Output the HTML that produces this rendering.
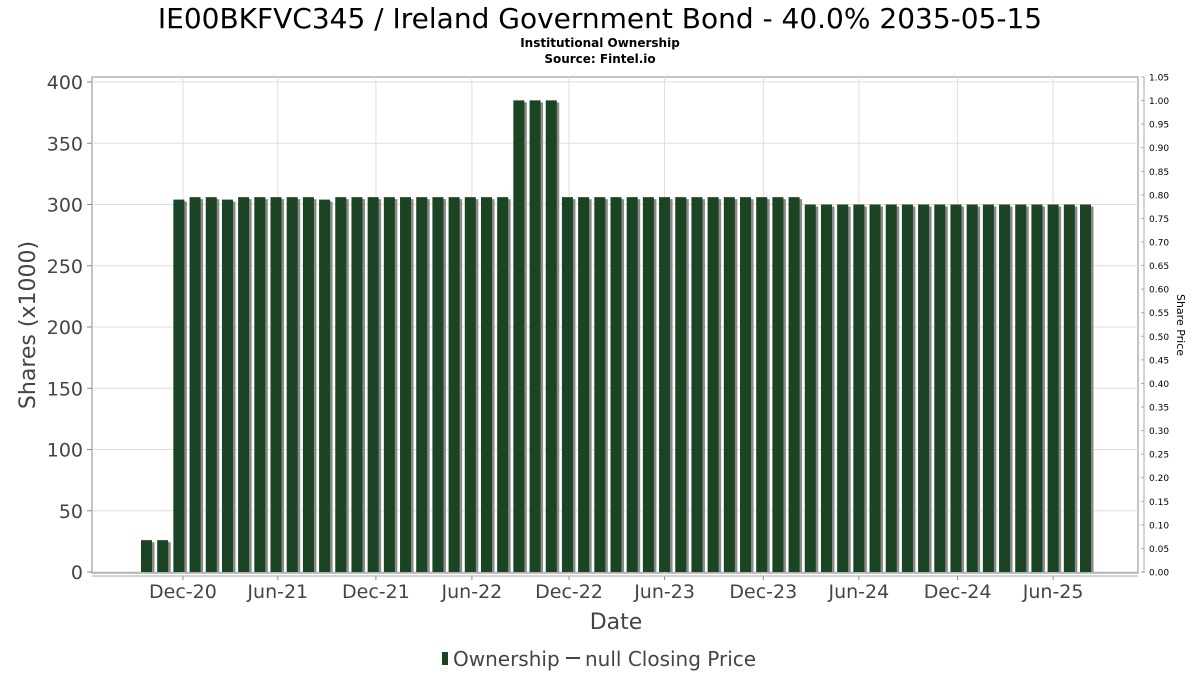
<!DOCTYPE html>
<html><head><meta charset="utf-8"><style>
html,body{margin:0;padding:0;background:#fff;}
svg{display:block;font-family:"DejaVu Sans","Liberation Sans",sans-serif;}
</style></head><body>
<svg id="chart" width="1200" height="675" viewBox="0 0 1200 675">
<text x="600" y="28" text-anchor="middle" font-size="28" fill="#000">IE00BKFVC345 / Ireland Government Bond - 40.0% 2035-05-15</text>
<text x="600" y="47" text-anchor="middle" font-size="12" font-weight="bold">Institutional Ownership</text>
<text x="600" y="63" text-anchor="middle" font-size="12" font-weight="bold">Source: Fintel.io</text>
<rect x="92" y="77" width="1046" height="496" fill="#fff" stroke="#888" stroke-width="1"/>
<g id="grid"></g>
<g id="bars"></g>
<g id="leftAxis"></g>
<g id="rightAxis"></g>
<g id="xAxis"></g>
<text transform="translate(35,325) rotate(-90)" text-anchor="middle" font-size="22" fill="#444">Shares (x1000)</text>
<text transform="translate(1177,325) rotate(90)" text-anchor="middle" font-size="11" fill="#000">Share Price</text>
<text x="616" y="629" text-anchor="middle" font-size="22" fill="#444">Date</text>
<g>
<rect x="442" y="652" width="6" height="13" fill="#1a4423"/>
<text x="453" y="666" font-size="20" fill="#444">Ownership</text>
<line x1="566" y1="658" x2="580" y2="658" stroke="#444" stroke-width="2"/>
<text x="585" y="666" font-size="20" fill="#444">null Closing Price</text>
</g>
</svg>
<script>
const shares = [26,26,304,306,306,304,306,306,306,306,306,304,
306,306,306,306,306,306,306,306,306,306,306,
385,385,385,
306,306,306,306,306,306,306,306,306,306,306,306,306,306,306,
300,300,300,300,300,300,300,300,300,300,300,300,300,300,300,300,300,300];
const xTickLabels = ["Dec-20","Jun-21","Dec-21","Jun-22","Dec-22","Jun-23","Dec-23","Jun-24","Dec-24","Jun-25"];
const xTickIndex = [2.25,8.11,14.17,20.1,26.1,32.0,38.1,44.0,50.1,56.0];
const yTicks = [0,50,100,150,200,250,300,350,400];
const priceTicks = [0,0.05,0.1,0.15,0.2,0.25,0.3,0.35,0.4,0.45,0.5,0.55,0.6,0.65,0.7,0.75,0.8,0.85,0.9,0.95,1.0,1.05];

const NS="http://www.w3.org/2000/svg";
const y = v => 572 - v*(490/400);
const yp = v => 572 - v*(495/1.05);
const step = (1080-141)/(shares.length-1);
const x = i => 141 + i*step;
function mk(tag, attrs, parent){const e=document.createElementNS(NS,tag);for(const k in attrs)e.setAttribute(k,attrs[k]);parent.appendChild(e);return e;}
const grid=document.getElementById('grid'), bars=document.getElementById('bars');
const la=document.getElementById('leftAxis'), ra=document.getElementById('rightAxis'), xa=document.getElementById('xAxis');

yTicks.forEach(v=>{
  const l=mk('line',{x1:92,x2:1138,y1:y(v),y2:y(v),stroke:'#ddd','stroke-width':1},grid);
  
  
  const t=mk('line',{x1:87,x2:92,y1:y(v),y2:y(v),stroke:'#888'},la);
  
  
  const tx=mk('text',{x:83,y:y(v)+7,'text-anchor':'end','font-size':19,fill:'#444'},la);
  tx.textContent=v;
  
  
});
xTickIndex.forEach((ix,k)=>{
  const px=x(ix)+5.5;
  const l=mk('line',{x1:px,x2:px,y1:77,y2:573,stroke:'#ddd','stroke-width':1},grid);
  
  
  const t=mk('line',{x1:px,x2:px,y1:576,y2:580,stroke:'#888'},xa);
  
  
  const tx=mk('text',{x:px,y:598,'text-anchor':'middle','font-size':19,fill:'#444'},xa);
  tx.textContent=xTickLabels[k];
  
  
});
const xl=mk('line',{x1:92,x2:1138,y1:576,y2:576,stroke:'#aaa'},xa);


const ral=mk('line',{x1:1144,x2:1144,y1:77,y2:573,stroke:'#aaa'},ra);


priceTicks.forEach(v=>{
  const t=mk('line',{x1:1141,x2:1144,y1:yp(v),y2:yp(v),stroke:'#aaa'},ra);
  
  
  const tx=mk('text',{x:1149,y:yp(v)+3.5,'font-size':9,fill:'#000'},ra);
  tx.textContent=v.toFixed(2);
  
  
});
shares.forEach((v,i)=>{
  const sh=mk('rect',{x:x(i)+2.5,y:y(v)+2,width:11,height:572-y(v)-2,fill:'#8a8a8a'},bars);
  
  
  const b=mk('rect',{x:x(i),y:y(v),width:11,height:572-y(v),fill:'#1a4423'},bars);
  
  
});
</script>
</body></html>
